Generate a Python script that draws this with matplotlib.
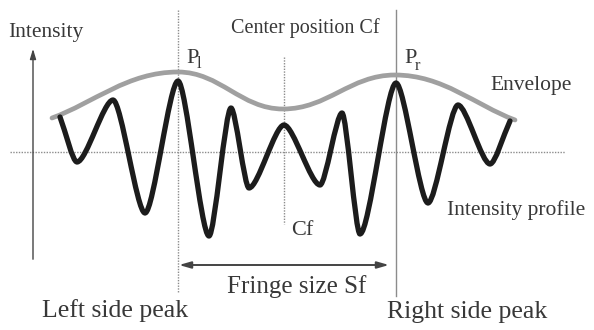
import matplotlib
matplotlib.use("Agg")
import matplotlib.pyplot as plt
from matplotlib.path import Path
from matplotlib.patches import PathPatch

# ---- data (pixel-like coordinates, y downward) ----
profile_x = [60, 77, 113, 145, 178, 209, 231, 249, 284, 320, 342, 360, 396, 428, 458, 490, 510]
profile_y = [117, 162, 100, 213, 81, 236, 108, 188, 125, 185, 113, 234, 83, 203, 105, 164, 121]
envelope_x = [52, 178, 283, 395, 515]
envelope_y = [118, 72, 109, 75, 120]
baseline_y = 152
peak_left_x = 178
center_x = 284
peak_right_x = 396

plt.rcParams['font.family'] = ['Liberation Serif', 'DejaVu Serif']

fig = plt.figure(figsize=(5.94, 3.30), dpi=100)
ax = fig.add_axes([0, 0, 1, 1])
ax.set_xlim(0, 594)
ax.set_ylim(330, 0)
ax.axis('off')


def smooth_path(xs, ys, k=0.38):
    verts = [(xs[0], ys[0])]
    codes = [Path.MOVETO]
    n = len(xs)
    for i in range(n - 1):
        x0, y0, x1, y1 = xs[i], ys[i], xs[i + 1], ys[i + 1]
        dx = x1 - x0
        if i == 0:
            c1 = (x0 + dx / 3, y0 + (y1 - y0) / 3)
        else:
            c1 = (x0 + k * dx, y0)
        if i == n - 2:
            c2 = (x1 - dx / 3, y1 - (y1 - y0) / 3)
        else:
            c2 = (x1 - k * dx, y1)
        verts += [c1, c2, (x1, y1)]
        codes += [Path.CURVE4] * 3
    return Path(verts, codes)


txt = '#383838'
grid_c = '#8c8c8c'

# baseline and vertical reference lines
ax.plot([10, 565], [baseline_y, baseline_y], color=grid_c, lw=1.0, ls=(0, (1, 1)), zorder=1)
ax.plot([peak_left_x, peak_left_x], [10, 292], color=grid_c, lw=1.0, ls=(0, (1, 1)), zorder=1)
ax.plot([center_x, center_x], [57, 224], color=grid_c, lw=1.0, ls=(0, (1, 1)), zorder=1)
ax.plot([peak_right_x, peak_right_x], [10, 296], color=grid_c, lw=1.0, zorder=1)

# intensity axis
ax.annotate('', xy=(33, 46), xytext=(33, 262),
            arrowprops=dict(arrowstyle='-|>,head_length=0.6,head_width=0.18', color='#444444', lw=1.0))

# envelope and profile
ax.add_patch(PathPatch(smooth_path(envelope_x, envelope_y, k=0.4), fill=False,
                       edgecolor='#a0a0a0', lw=3.4, capstyle='round', zorder=2))
ax.add_patch(PathPatch(smooth_path(profile_x, profile_y, k=0.26), fill=False,
                       edgecolor='#1c1c1c', lw=3.8, capstyle='round', joinstyle='round', zorder=3))

# fringe size arrow
ax.annotate('', xy=(179, 265), xytext=(389, 265),
            arrowprops=dict(arrowstyle='<|-|>,head_length=0.7,head_width=0.2', color='#444444',
                            lw=1.4, shrinkA=0, shrinkB=0))

# labels
ax.text(8, 37, 'Intensity', fontsize=15.5, color=txt, ha='left', va='baseline')
ax.text(305, 33, 'Center position Cf', fontsize=14.5, color=txt, ha='center', va='baseline')
ax.text(186, 63, 'P', fontsize=16, color=txt, ha='left', va='baseline')
ax.text(197, 68, 'l', fontsize=12, color=txt, ha='left', va='baseline')
ax.text(404, 63, 'P', fontsize=16, color=txt, ha='left', va='baseline')
ax.text(415, 70, 'r', fontsize=12, color=txt, ha='left', va='baseline')
ax.text(490, 90, 'Envelope', fontsize=15.5, color=txt, ha='left', va='baseline')
ax.text(447, 215, 'Intensity profile', fontsize=15.5, color=txt, ha='left', va='baseline')
ax.text(291, 235, 'Cf', fontsize=16, color=txt, ha='left', va='baseline')
ax.text(297, 293, 'Fringe size Sf', fontsize=18, color=txt, ha='center', va='baseline')
ax.text(115, 317, 'Left side peak', fontsize=18.5, color=txt, ha='center', va='baseline')
ax.text(467, 318, 'Right side peak', fontsize=18.5, color=txt, ha='center', va='baseline')

fig.savefig('out.png', dpi=100)
